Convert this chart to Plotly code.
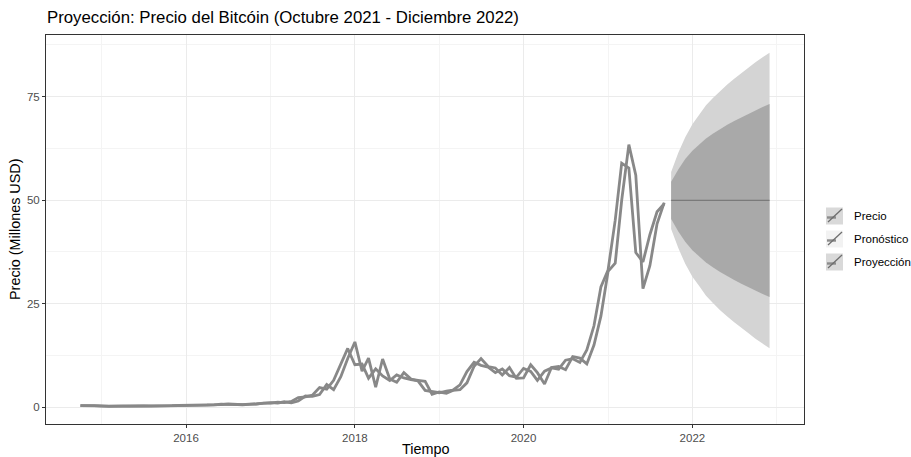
import plotly.graph_objects as go
import pandas as pd

# Monthly series, thousands of USD (Oct 2014 - Sep 2021)
fechas = pd.date_range("2014-10-01", "2021-09-01", freq="MS")
precio = [
    0.338, 0.378, 0.320,
    0.217, 0.254, 0.244, 0.236, 0.230, 0.263, 0.284, 0.230, 0.236, 0.314, 0.378, 0.430,
    0.368, 0.437, 0.416, 0.448, 0.531, 0.673, 0.624, 0.573, 0.609, 0.699, 0.742, 0.964,
    0.971, 1.190, 1.072, 1.348, 2.286, 2.481, 2.875, 4.703, 4.339, 6.468, 10.233, 14.157,
    10.221, 10.397, 6.973, 9.240, 7.494, 6.404, 7.780, 7.037, 6.625, 6.318, 4.017, 3.743,
    3.457, 3.854, 4.105, 5.351, 8.574, 10.817, 10.085, 9.631, 8.294, 9.199, 7.569, 7.194,
    9.350, 8.600, 6.439, 8.658, 9.462, 9.138, 11.323, 11.681, 10.785, 13.781, 19.626, 29.002,
    33.114, 45.137, 58.918, 57.750, 37.332, 35.041, 41.626, 47.166, 49.100,
]
pronostico = [
    0.340, 0.338, 0.394,
    0.297, 0.176, 0.269, 0.240, 0.233, 0.228, 0.276, 0.292, 0.208, 0.238, 0.345, 0.404,
    0.451, 0.343, 0.465, 0.408, 0.461, 0.564, 0.730, 0.604, 0.553, 0.623, 0.735, 0.759,
    1.053, 0.974, 1.278, 1.025, 1.458, 2.661, 2.559, 3.033, 5.434, 4.193, 7.320, 11.739,
    15.727, 8.647, 11.800, 4.800, 11.600, 6.796, 5.968, 8.330, 6.740, 6.460, 6.195, 3.097,
    3.633, 3.343, 4.013, 4.205, 5.849, 9.863, 11.714, 9.792, 9.449, 7.759, 9.561, 6.917,
    7.044, 10.212, 8.300, 5.575, 9.546, 9.784, 9.008, 12.197, 11.824, 10.427, 14.979, 21.964,
    32.752, 34.759, 49.946, 63.400, 56.000, 28.600, 34.125, 44.260, 49.382,
]

# Forecast horizon (Oct 2021 - Dec 2022): mean with 80% and 95% intervals
fechas_proy = pd.date_range("2021-10-01", "2022-12-01", freq="MS")
media = [49.9] * 15
alto80 = [54.4, 57.4, 59.9, 61.9, 63.5, 64.9, 66.1, 67.2, 68.2, 69.1, 70.0, 70.9, 71.7, 72.5, 73.2]
bajo80 = [45.4, 42.4, 39.9, 37.9, 36.3, 34.9, 33.7, 32.6, 31.6, 30.7, 29.8, 28.9, 28.1, 27.3, 26.6]
alto95 = [56.8, 61.4, 65.2, 68.3, 70.7, 72.9, 74.7, 76.4, 77.9, 79.3, 80.7, 82.0, 83.3, 84.5, 85.6]
bajo95 = [43.0, 38.4, 34.6, 31.5, 29.1, 26.9, 25.1, 23.4, 21.9, 20.5, 19.1, 17.8, 16.5, 15.3, 14.2]

anios = ["2016", "2018", "2020", "2022"]
anios_menores = ["2015", "2017", "2019", "2021", "2023"]
niveles = [0, 25, 50, 75]
niveles_menores = [12.5, 37.5, 62.5, 87.5]

W, H = 911, 457
ML, MR, MT, MB = 46, 107, 35, 33
PW, PH = W - ML - MR, H - MT - MB

LINEA = "#888888"
CLARO = "#D4D4D4"
OSCURO = "#A9A9A9"
FONT = "Liberation Sans, Arial, sans-serif"

fig = go.Figure()

xp = list(fechas_proy)
fig.add_trace(go.Scatter(
    x=xp + xp[::-1], y=alto95 + bajo95[::-1], fill="toself", fillcolor=CLARO,
    line=dict(width=0), mode="lines", hoverinfo="skip", showlegend=False))
fig.add_trace(go.Scatter(
    x=xp + xp[::-1], y=alto80 + bajo80[::-1], fill="toself", fillcolor=OSCURO,
    line=dict(width=0), mode="lines", hoverinfo="skip", showlegend=False))
fig.add_trace(go.Scatter(
    x=xp, y=media, mode="lines", line=dict(color="#7A7A7A", width=1.3), showlegend=False))
fig.add_trace(go.Scatter(
    x=fechas, y=pronostico, mode="lines", line=dict(color=LINEA, width=2.8), showlegend=False))
fig.add_trace(go.Scatter(
    x=fechas, y=precio, mode="lines", line=dict(color=LINEA, width=2.8), showlegend=False))

# ggplot-style 5% expansion of the data range
x0 = fechas.min()
x1 = fechas_proy.max()
pad = (x1 - x0) * 0.05
ymin = min(min(precio), min(pronostico), min(bajo95))
ymax = max(max(precio), max(pronostico), max(alto95))
ypad = (ymax - ymin) * 0.05

grid = dict(showgrid=True, gridcolor="#EBEBEB", gridwidth=1.1)
fig.update_xaxes(
    type="date", range=[x0 - pad, x1 + pad],
    tickmode="array", tickvals=[f"{a}-01-01" for a in anios], ticktext=anios,
    ticks="outside", ticklen=3, tickcolor="#333333", tickwidth=1,
    tickfont=dict(family=FONT, size=11.5, color="#4D4D4D"),
    showline=True, linecolor="#333333", linewidth=1, mirror=True, zeroline=False,
    minor=dict(tickmode="array", tickvals=[f"{a}-01-01" for a in anios_menores],
               showgrid=True, gridcolor="#F4F4F4", gridwidth=0.6, ticks=""),
    **grid)
fig.update_yaxes(
    range=[ymin - ypad, ymax + ypad],
    tickmode="array", tickvals=niveles, ticktext=[str(v) for v in niveles],
    ticks="outside", ticklen=3, tickcolor="#333333", tickwidth=1,
    tickfont=dict(family=FONT, size=11.5, color="#4D4D4D"),
    showline=True, linecolor="#333333", linewidth=1, mirror=True, zeroline=False,
    minor=dict(tickmode="array", tickvals=niveles_menores,
               showgrid=True, gridcolor="#F4F4F4", gridwidth=0.6, ticks=""),
    **grid)


def px(xpix):
    return (xpix - ML) / PW


def py(ypix):
    return (H - MB - ypix) / PH


anot = [
    dict(text="Proyección: Precio del Bitcóin (Octubre 2021 - Diciembre 2022)",
         x=px(45), y=py(18), xanchor="left", yanchor="middle",
         font=dict(family=FONT, size=16.8, color="#000000")),
    dict(text="Tiempo", x=px(425), y=py(449), xanchor="center", yanchor="middle",
         font=dict(family=FONT, size=14.4, color="#000000")),
    dict(text="Precio (Millones USD)", x=px(15), y=py(229), xanchor="center", yanchor="middle",
         textangle=-90, font=dict(family=FONT, size=14.4, color="#000000")),
]

# Legend drawn by hand: grey key boxes with a line glyph
leyenda = ["Precio", "Pronóstico", "Proyección"]
fondos = ["#D9D9D9", "#F2F2F2", "#D9D9D9"]
formas = []
for i, (nombre, fondo) in enumerate(zip(leyenda, fondos)):
    cy = 216 + 23 * i
    formas.append(dict(type="rect", xref="paper", yref="paper",
                       x0=px(826), x1=px(843), y0=py(cy + 8.5), y1=py(cy - 8.5),
                       fillcolor=fondo, line=dict(width=0)))
    formas.append(dict(type="line", xref="paper", yref="paper",
                       x0=px(827), x1=px(836), y0=py(cy + 1.5), y1=py(cy + 1.5),
                       line=dict(color="#8C8C8C", width=2.4)))
    formas.append(dict(type="line", xref="paper", yref="paper",
                       x0=px(828), x1=px(842), y0=py(cy + 6), y1=py(cy - 7),
                       line=dict(color="#6E6E6E", width=1.3)))
    anot.append(dict(text=nombre, x=px(852), y=py(cy), xanchor="left", yanchor="middle",
                     font=dict(family=FONT, size=11.5, color="#000000")))

for a in anot:
    a.update(xref="paper", yref="paper", showarrow=False)

fig.update_layout(
    width=W, height=H, margin=dict(l=ML, r=MR, t=MT, b=MB),
    paper_bgcolor="white", plot_bgcolor="white",
    annotations=anot, shapes=formas, showlegend=False,
)

fig.write_html("out.html")
